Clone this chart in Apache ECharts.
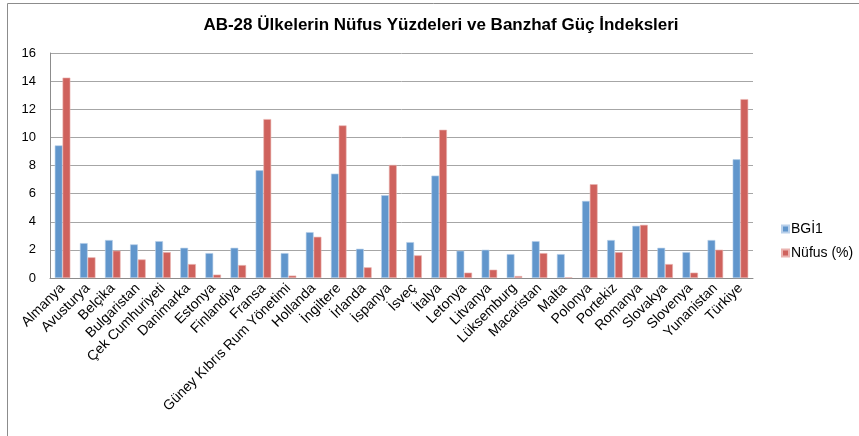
<!DOCTYPE html>
<html>
<head>
<meta charset="utf-8">
<script src="https://cdn.jsdelivr.net/npm/echarts@6/dist/echarts.min.js"></script>
<style>
  html, body { margin: 0; padding: 0; background: #fff; }
  #main { width: 859px; height: 436px; }
</style>
</head>
<body>
<div id="main"></div>
<script>
// kategoriler (ülkeler)
var ulkeler = ['Almanya', 'Avusturya', 'Belçika', 'Bulgaristan', 'Çek Cumhuriyeti', 'Danimarka',
  'Estonya', 'Finlandiya', 'Fransa', 'Güney Kıbrıs Rum Yönetimi', 'Hollanda', 'İngiltere',
  'İrlanda', 'İspanya', 'İsveç', 'İtalya', 'Letonya', 'Litvanya', 'Lüksemburg', 'Macaristan',
  'Malta', 'Polonya', 'Portekiz', 'Romanya', 'Slovakya', 'Slovenya', 'Yunanistan', 'Türkiye'];

// Banzhaf güç indeksi
var bgi = [9.43, 2.48, 2.70, 2.39, 2.62, 2.15, 1.77, 2.15, 7.66, 1.77, 3.26, 7.42,
  2.08, 5.89, 2.55, 7.28, 1.94, 2.01, 1.70, 2.62, 1.70, 5.48, 2.70, 3.71, 2.15, 1.84, 2.70, 8.44];

// nüfus yüzdesi
var nufus = [14.25, 1.47, 1.94, 1.32, 1.84, 0.99, 0.24, 0.92, 11.30, 0.17, 2.93, 10.85,
  0.76, 8.04, 1.61, 10.54, 0.38, 0.59, 0.14, 1.77, 0.05, 6.67, 1.84, 3.78, 0.99, 0.38, 2.01, 12.72];

var yTicks = [0, 2, 4, 6, 8, 10, 12, 14, 16];

var myChart = echarts.init(document.getElementById('main'));
var yazi = 'Liberation Sans, Arial, sans-serif';

myChart.setOption({
    animation: false,
    textStyle: { fontFamily: yazi },
    // dış çerçeve
    graphic: [{
        type: 'rect',
        shape: { x: 7.5, y: 3.5, width: 900, height: 500 },
        style: { fill: 'none', stroke: '#8c8c8c', lineWidth: 1 },
        silent: true
    }],
    title: {
        text: 'AB-28 Ülkelerin Nüfus Yüzdeleri ve Banzhaf Güç İndeksleri',
        left: 436,
        textAlign: 'center',
        top: 12,
        textStyle: { fontSize: 17, fontWeight: 'bold', color: '#000', fontFamily: yazi }
    },
    legend: {
        orient: 'vertical',
        left: 776,
        top: 217,
        itemWidth: 7,
        itemHeight: 7,
        itemGap: 10,
        icon: 'rect',
        textStyle: { fontSize: 14, color: '#000', fontFamily: yazi, padding: [0, 0, 0, -3] },
        data: ['BGİ1', 'Nüfus (%)']
    },
    grid: { left: 50, right: 106, top: 53, bottom: 158 },
    xAxis: {
        type: 'category',
        data: ulkeler,
        axisLine: { lineStyle: { color: '#8c8c8c', width: 1 } },
        axisTick: { show: false },
        axisLabel: {
            rotate: 45,
            interval: 0,
            margin: 8,
            fontSize: 14,
            color: '#000',
            fontFamily: yazi
        }
    },
    yAxis: {
        type: 'value',
        min: yTicks[0],
        max: yTicks[yTicks.length - 1],
        interval: 2,
        axisLine: { show: true, lineStyle: { color: '#8c8c8c' } },
        axisTick: { show: false },
        axisLabel: { fontSize: 13, color: '#000', margin: 14, fontFamily: yazi },
        splitLine: { lineStyle: { color: '#a6a6a6', width: 1 } }
    },
    series: [{
        name: 'BGİ1',
        type: 'bar',
        data: bgi,
        barGap: '0%',
        barCategoryGap: '38%',
        itemStyle: { color: '#6196cc', borderColor: '#b9d0ea', borderWidth: 0.6 }
    }, {
        name: 'Nüfus (%)',
        type: 'bar',
        data: nufus,
        itemStyle: { color: '#cf625d', borderColor: '#eab3b0', borderWidth: 0.6 }
    }]
});
</script>
</body>
</html>
